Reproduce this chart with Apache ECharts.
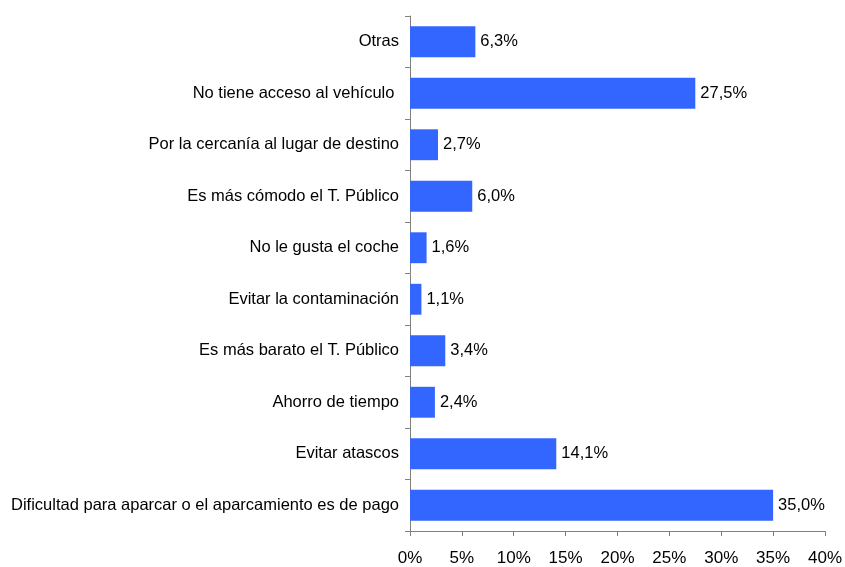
<!DOCTYPE html>
<html>
<head>
<meta charset="utf-8">
<script src="https://cdn.jsdelivr.net/npm/echarts@6/dist/echarts.min.js"></script>
<style>
  html, body { margin: 0; padding: 0; background: #fff; }
  #chart { width: 845px; height: 567px; }
</style>
</head>
<body>
<div id="chart"></div>
<script>
// bottom to top, as drawn by the category axis
const categories = [
    'Dificultad para aparcar o el aparcamiento es de pago',
    'Evitar atascos',
    'Ahorro de tiempo',
    'Es más barato el T. Público',
    'Evitar la contaminación',
    'No le gusta el coche',
    'Es más cómodo el T. Público',
    'Por la cercanía al lugar de destino',
    'No tiene acceso al vehículo ',
    'Otras'
];
const values = [35.0, 14.1, 2.4, 3.4, 1.1, 1.6, 6.0, 2.7, 27.5, 6.3];

const axisColor = '#808080';
const fontFamily = 'Liberation Sans, Arial, sans-serif';

let myChart = echarts.init(document.getElementById('chart'));
myChart.setOption({
    animation: false,
    backgroundColor: '#fff',
    grid: { left: 410, right: 20, top: 16, bottom: 36 },
    xAxis: {
        type: 'value',
        min: 0,
        max: 40,
        interval: 5,
        splitLine: { show: false },
        axisLine: { show: true, lineStyle: { color: axisColor } },
        axisTick: { show: true, length: 5, lineStyle: { color: axisColor } },
        axisLabel: {
            margin: 19,
            color: '#000',
            fontSize: 17,
            fontFamily,
            formatter: v => v + '%'
        }
    },
    yAxis: {
        type: 'category',
        data: categories,
        axisLine: { show: true, lineStyle: { color: axisColor } },
        axisTick: { show: true, length: 5, lineStyle: { color: axisColor } },
        axisLabel: { margin: 11, color: '#000', fontSize: 16.5, fontFamily }
    },
    series: [{
        type: 'bar',
        data: values,
        barCategoryGap: '40%',
        itemStyle: { color: '#3366FF' },
        label: {
            show: true,
            position: 'right',
            distance: 5,
            color: '#000',
            fontSize: 16.5,
            fontFamily,
            formatter: p => p.value.toFixed(1).replace('.', ',') + '%'
        }
    }]
});
</script>
</body>
</html>
